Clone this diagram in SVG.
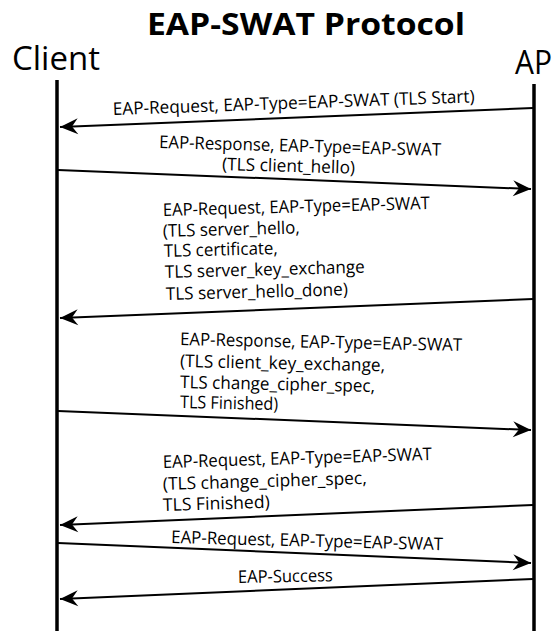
<svg xmlns="http://www.w3.org/2000/svg" width="555" height="631" viewBox="0 0 555 631">
<defs>
<style>
.t{font-family:"Open Sans","Liberation Sans",sans-serif;font-size:17.5px;fill:#000}
.h{font-family:"Open Sans","Liberation Sans",sans-serif;font-size:33px;fill:#000}
.ttl{font-family:"Open Sans","Liberation Sans",sans-serif;font-size:31px;font-weight:bold;fill:#000}
.life{stroke:#000;stroke-width:3.5;fill:none}
.msg{stroke:#000;stroke-width:2;fill:none;marker-end:url(#ah)}
</style>
<marker id="ah" viewBox="-19 -9 21 18" refX="0" refY="0" markerWidth="21" markerHeight="18" markerUnits="userSpaceOnUse" orient="auto">
<path d="M0,0 L-18,-8 L-12,0 L-18,8 Z" fill="#000"/>
</marker>
</defs>
<rect width="555" height="631" fill="#fff"/>
<text class="ttl" x="147" y="35" textLength="318" lengthAdjust="spacingAndGlyphs">EAP-SWAT Protocol</text>
<g id="client">
<text class="h" x="12" y="70" textLength="88" lengthAdjust="spacingAndGlyphs">Client</text>
<line class="life" x1="57" y1="80" x2="57" y2="631"/>
</g>
<g id="ap">
<text class="h" x="515" y="74" textLength="37" lengthAdjust="spacingAndGlyphs">AP</text>
<line class="life" x1="534" y1="84" x2="534" y2="631"/>
</g>
<g id="connectors">
<line class="msg" x1="533" y1="108" x2="60" y2="127"/>
<line class="msg" x1="58" y1="170" x2="531" y2="189"/>
<line class="msg" x1="533" y1="299" x2="60" y2="318"/>
<line class="msg" x1="58" y1="411" x2="531" y2="430"/>
<line class="msg" x1="533" y1="505" x2="60" y2="525"/>
<line class="msg" x1="58" y1="543" x2="531" y2="563"/>
<line class="msg" x1="533" y1="579" x2="60" y2="599"/>
</g>
<g id="labels">
<text class="t" x="113" y="115" transform="rotate(-2 113 115)" textLength="362" lengthAdjust="spacingAndGlyphs">EAP-Request, EAP-Type=EAP-SWAT (TLS Start)</text>
<text class="t" x="159" y="148" transform="rotate(1.6 159 148)" textLength="282" lengthAdjust="spacingAndGlyphs">EAP-Response, EAP-Type=EAP-SWAT</text>
<text class="t" x="222" y="170" transform="rotate(1.6 222 170)" textLength="133" lengthAdjust="spacingAndGlyphs">(TLS client_hello)</text>
<text class="t" x="163" y="216" transform="rotate(-1.5 163 216)" textLength="267" lengthAdjust="spacingAndGlyphs">EAP-Request, EAP-Type=EAP-SWAT</text>
<text class="t" x="163" y="237" transform="rotate(-1.5 163 237)" textLength="137" lengthAdjust="spacingAndGlyphs">(TLS server_hello,</text>
<text class="t" x="164" y="257" transform="rotate(-1.5 164 257)" textLength="114" lengthAdjust="spacingAndGlyphs">TLS certificate,</text>
<text class="t" x="165" y="278" transform="rotate(-1.5 165 278)" textLength="200" lengthAdjust="spacingAndGlyphs">TLS server_key_exchange</text>
<text class="t" x="166" y="300" transform="rotate(-1.5 166 300)" textLength="182" lengthAdjust="spacingAndGlyphs">TLS server_hello_done)</text>
<text class="t" x="180" y="345" transform="rotate(1.2 180 345)" textLength="282" lengthAdjust="spacingAndGlyphs">EAP-Response, EAP-Type=EAP-SWAT</text>
<text class="t" x="180" y="367" transform="rotate(1.2 180 367)" textLength="205" lengthAdjust="spacingAndGlyphs">(TLS client_key_exchange,</text>
<text class="t" x="180" y="388" transform="rotate(1.2 180 388)" textLength="195" lengthAdjust="spacingAndGlyphs">TLS change_cipher_spec,</text>
<text class="t" x="180" y="408" transform="rotate(1.2 180 408)" textLength="98" lengthAdjust="spacingAndGlyphs">TLS Finished)</text>
<text class="t" x="163" y="468" transform="rotate(-1.7 163 468)" textLength="269" lengthAdjust="spacingAndGlyphs">EAP-Request, EAP-Type=EAP-SWAT</text>
<text class="t" x="163" y="490" transform="rotate(-1.7 163 490)" textLength="204" lengthAdjust="spacingAndGlyphs">(TLS change_cipher_spec,</text>
<text class="t" x="163" y="511" transform="rotate(-1.7 163 511)" textLength="107" lengthAdjust="spacingAndGlyphs">TLS Finished)</text>
<text class="t" x="171" y="543" transform="rotate(1.5 171 543)" textLength="272" lengthAdjust="spacingAndGlyphs">EAP-Request, EAP-Type=EAP-SWAT</text>
<text class="t" x="238" y="583" transform="rotate(-1 238 583)" textLength="95" lengthAdjust="spacingAndGlyphs">EAP-Success</text>
</g>
</svg>
